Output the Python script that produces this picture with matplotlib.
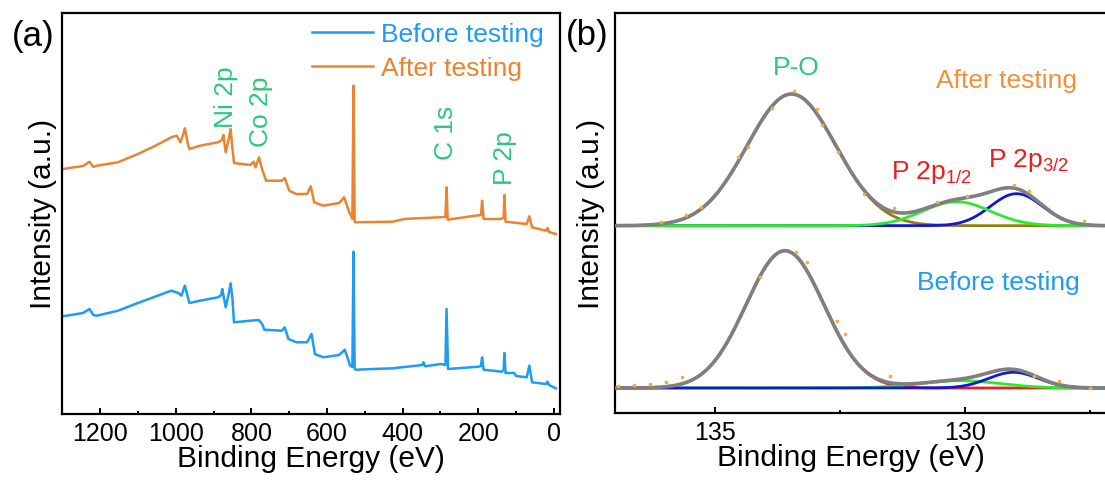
import numpy as np
import matplotlib
matplotlib.use("Agg")
import matplotlib.pyplot as plt
from matplotlib.ticker import MultipleLocator

plt.rcParams["font.family"] = ["Liberation Sans", "DejaVu Sans"]
plt.rcParams["mathtext.fontset"] = "custom"
plt.rcParams["mathtext.rm"] = "Liberation Sans"
plt.rcParams["mathtext.it"] = "Liberation Sans:italic"

# ---------------- survey spectra (binding energy in eV, intensity in a.u.) ----------------
survey_before_be = [1299, 1245, 1228, 1218, 1209, 1153, 1100, 1050, 1012, 993, 985, 976, 968, 964,
                    936, 888, 880, 877, 868, 860, 855, 850, 846, 803, 780, 770, 766, 719, 712, 702,
                    681, 653, 641, 632, 610, 568, 553, 539, 533, 530, 527, 524, 426, 348, 345, 341,
                    298, 287, 284, 280, 200, 193, 190, 186, 138, 133, 131, 128, 105, 100, 72, 65,
                    58, 21, 17, 13, -5]
survey_before_int = [97.4, 100.7, 104.7, 98.7, 98.0, 103.0, 110.7, 117.7, 123.0, 120.7, 118.0, 128.0,
                     116.7, 110.7, 113.0, 116.4, 118.7, 124.7, 106.4, 119.7, 130.4, 114.7, 91.4, 93.0,
                     93.7, 88.7, 84.0, 83.0, 86.4, 74.7, 71.4, 71.4, 79.7, 59.7, 56.4, 58.7, 64.0,
                     48.0, 46.7, 162.0, 44.7, 44.0, 45.4, 48.7, 51.4, 47.4, 49.7, 48.7, 104.7, 44.7,
                     47.0, 47.7, 56.4, 44.0, 42.0, 43.7, 60.7, 40.7, 40.7, 37.7, 36.4, 48.0, 31.4,
                     29.7, 32.0, 28.7, 25.4]

survey_after_be = [1299, 1245, 1228, 1218, 1209, 1153, 1100, 1050, 1012, 997, 988, 980, 976, 968,
                   964, 936, 888, 878, 874, 868, 860, 855, 850, 846, 803, 794, 789, 780, 772, 761,
                   719, 712, 700, 681, 653, 643, 634, 610, 568, 555, 541, 533, 530, 527, 525, 426,
                   397, 303, 287, 284, 281, 209, 193, 190, 186, 143, 133, 131, 128, 72, 65, 58,
                   21, 17, 13, -5]
survey_after_int = [244.7, 247.7, 252.0, 246.7, 248.0, 251.4, 259.7, 268.7, 276.4, 278.0, 271.4,
                    279.7, 285.4, 269.7, 264.7, 268.0, 271.4, 273.7, 278.7, 261.4, 274.7, 284.7,
                    264.7, 250.7, 248.7, 252.0, 246.4, 256.4, 244.7, 233.0, 233.0, 235.7, 223.0,
                    219.7, 219.7, 227.4, 211.4, 208.0, 210.7, 216.4, 201.4, 194.7, 328.0, 192.0,
                    191.4, 192.0, 194.7, 196.4, 196.7, 226.4, 194.0, 198.0, 198.7, 213.0, 194.7,
                    194.7, 195.7, 218.7, 192.0, 189.7, 197.4, 186.4, 183.0, 185.7, 181.7, 179.7]

survey_labels = ["Ni 2p", "Co 2p", "C 1s", "P 2p"]
survey_label_be = [868, 775, 286, 128.5]
survey_label_int = [286.7, 267.7, 254.7, 229.7]

# ---------------- P 2p high-resolution fits ----------------
# fitted Gaussian components: (centre eV, height, sigma eV)
after_offset = 187.6
after_po = (133.47, 131.7, 0.89)
after_p12 = (130.17, 24.0, 0.68)
after_p32 = (128.97, 32.0, 0.52)

before_offset = 25.3
before_po = (133.60, 137.3, 0.78)
before_p12 = (130.10, 7.3, 0.80)
before_p32 = (129.03, 15.7, 0.50)

# measured points
after_pts_be = [136.08, 135.58, 135.28, 134.54, 134.34, 133.86, 133.43, 132.96, 132.86, 132.54,
                132.03, 131.43, 130.56, 129.97, 129.03, 128.72, 127.63]
after_pts_int = [191.6, 198.6, 206.6, 256.0, 266.5, 305.0, 322.6, 304.3, 288.5, 261.0,
                 219.3, 205.0, 211.0, 217.6, 228.6, 222.6, 192.6]
before_pts_be = [136.95, 136.63, 136.31, 135.98, 135.67, 134.10, 133.39, 133.16, 132.57, 132.41,
                 131.50, 128.61, 128.12, 127.50]
before_pts_int = [27.6, 28.6, 29.3, 31.0, 36.0, 136.0, 161.6, 151.0, 92.6, 79.3,
                  37.6, 37.6, 32.6, 25.3]

c_before = "#1e9cf0"
c_after = "#ea8431"
c_label = "#2dc77c"
c_red = "#ee1d1d"


def gauss(x, p):
    c, a, s = p
    return a * np.exp(-0.5 * ((x - c) / s) ** 2)


W, H = 1105, 481
fig = plt.figure(figsize=(W / 100, H / 100), dpi=100)

axA = fig.add_axes([62.3 / W, (H - 414.7) / H, (560 - 62.3) / W, (414.7 - 14) / H])
axB = fig.add_axes([615 / W, (H - 414.3) / H, (1107 - 615) / W, (414.3 - 14) / H])

# ---- panel (a) ----
axA.plot(survey_before_be, survey_before_int, color=c_before, lw=1.8, label="Before testing")
axA.plot(survey_after_be, survey_after_int, color=c_after, lw=1.8, label="After testing")
axA.set_xlim(1300, -16)
axA.set_ylim(0, 400.7)
axA.xaxis.set_major_locator(MultipleLocator(200))
axA.xaxis.set_minor_locator(MultipleLocator(100))
for t, xb, yi in zip(survey_labels, survey_label_be, survey_label_int):
    axA.text(xb, yi, t, rotation=90, ha="center", va="bottom", color=c_label, fontsize=19)
leg = axA.legend(loc="upper right", bbox_to_anchor=(0.967, 0.9765), frameon=False, fontsize=19,
                 labelcolor="linecolor", handlelength=2.3, handletextpad=0.3, labelspacing=0.38,
                 borderaxespad=0.0, borderpad=0.0)

# ---- panel (b) ----
e = np.linspace(137.0, 127.16, 800)

# after testing
a_po = gauss(e, after_po)
a_12 = gauss(e, after_p12)
a_32 = gauss(e, after_p32)
axB.plot(e, after_offset + a_po, color="#8c8008", lw=2.0, zorder=2)
axB.plot(e, after_offset + a_32, color="#1515d8", lw=2.0, zorder=3)
axB.plot(e, after_offset + a_12, color="#2ee82e", lw=2.0, zorder=4)
axB.plot(e, after_offset + a_po + a_12 + a_32, color="#7f7f7f", lw=2.6, zorder=5)
axB.scatter(after_pts_be, after_pts_int, s=7, color="#eeae45", zorder=6, linewidths=0)

# before testing
b_po = gauss(e, before_po)
b_12 = gauss(e, before_p12)
b_32 = gauss(e, before_p32)
axB.plot(e, before_offset + b_po, color="#e8231f", lw=2.0, zorder=2)
axB.plot(e, before_offset + b_12, color="#2ee82e", lw=2.0, zorder=3)
axB.plot(e, before_offset + b_32, color="#1515d8", lw=2.0, zorder=4)
axB.plot(e, before_offset + b_po + b_12 + b_32, color="#7f7f7f", lw=2.6, zorder=5)
axB.scatter(before_pts_be, before_pts_int, s=7, color="#eeae45", zorder=6, linewidths=0)

axB.set_xlim(137.0, 127.16)
axB.set_ylim(0, 400.3)
axB.xaxis.set_major_locator(MultipleLocator(5))
axB.xaxis.set_minor_locator(MultipleLocator(2.5))

axB.text(133.38, 339.3, "P-O", color=c_label, fontsize=19, ha="center", va="baseline")
axB.text(129.18, 326.3, "After testing", color="#f0913c", fontsize=19, ha="center", va="baseline")
axB.text(129.34, 124.3, "Before testing", color=c_before, fontsize=19, ha="center", va="baseline")
axB.text(130.66, 235.0, r"P 2p$_{\mathrm{1/2}}$", color=c_red, fontsize=19, ha="center", va="baseline")
axB.text(128.72, 247.0, r"P 2p$_{\mathrm{3/2}}$", color=c_red, fontsize=19, ha="center", va="baseline")

for ax in (axA, axB):
    for sp in ax.spines.values():
        sp.set_linewidth(1.6)
    ax.tick_params(axis="x", which="major", direction="in", length=4, width=1.4,
                   labelsize=18, pad=5, top=False)
    ax.tick_params(axis="x", which="minor", direction="in", length=2.5, width=1.4, top=False)
    ax.tick_params(axis="y", which="both", left=False, right=False, labelleft=False)
    ax.set_xlabel("Binding Energy (eV)", fontsize=21.5, labelpad=0)
    ax.set_ylabel("Intensity (a.u.)", fontsize=21.5)

# y-label anchors sit at the right edge of the rotated text
axA.yaxis.set_label_coords((57 - 62.3) / (560 - 62.3), 0.5)
axB.yaxis.set_label_coords((605 - 615) / (1107 - 615), 0.5)
axA.xaxis.set_label_coords(0.5, -0.075)
axA.xaxis.label.set_va("top")
axB.xaxis.set_label_coords((851 - 615) / (1107 - 615), -0.075)
axB.xaxis.label.set_va("top")

fig.text(12 / W, 1 - 36.5 / H, "(a)", fontsize=25, va="center", ha="left")
fig.text(566 / W, 1 - 35.5 / H, "(b)", fontsize=25, va="center", ha="left")

fig.savefig("out.png", dpi=100)
